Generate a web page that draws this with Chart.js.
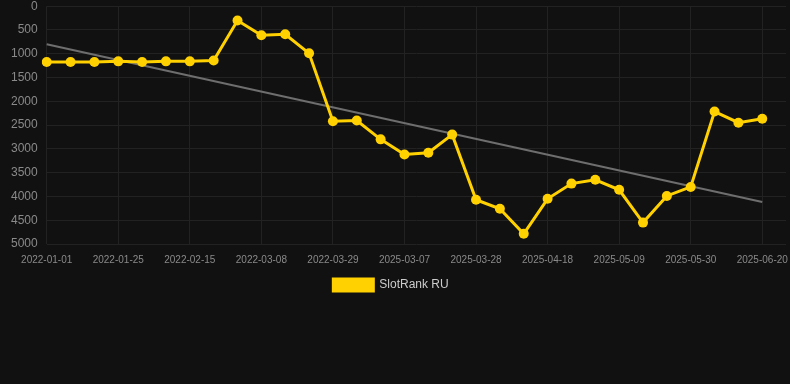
<!DOCTYPE html>
<html>
<head>
<meta charset="utf-8">
<script src="https://cdn.jsdelivr.net/npm/chart.js@4/dist/chart.umd.min.js"></script>
<style>
  html, body { margin: 0; padding: 0; background: #111111; overflow: hidden; width: 790px; height: 384px; }
  #wrap { width: 798px; height: 393px; margin-top: -10px; }
</style>
</head>
<body>
<div id="wrap"><canvas id="c"></canvas></div>
<script>
const labels = [
  '2022-01-01', '2022-01-08', '2022-01-18', '2022-01-25', '2022-02-01', '2022-02-08',
  '2022-02-15', '2022-02-22', '2022-03-01', '2022-03-08', '2022-03-15', '2022-03-22',
  '2022-03-29', '2025-02-21', '2025-02-28', '2025-03-07', '2025-03-14', '2025-03-21',
  '2025-03-28', '2025-04-04', '2025-04-11', '2025-04-18', '2025-04-25', '2025-05-02',
  '2025-05-09', '2025-05-16', '2025-05-23', '2025-05-30', '2025-06-06', '2025-06-13',
  '2025-06-20', ''
];
const rankRU = [
  1175, 1175, 1175, 1160, 1175, 1160, 1160, 1140, 300, 610, 590, 990,
  2420, 2405, 2800, 3120, 3080, 2700, 4070, 4260, 4785, 4050, 3730, 3650,
  3860, 4550, 3990, 3800, 2215, 2450, 2365, null
];
const trendStart = 800;
const trendEnd = 4115;

const trend = labels.map(() => null);
trend[0] = trendStart;
trend[30] = trendEnd;

const tickColor = '#8a8a8a';
const gridColor = '#222222';

// canvas is a little wider than the window, pull the legend back to the visible centre
const legendShift = {
  id: 'legendShift',
  afterUpdate(chart) {
    if (!chart.legend) return;
    chart.legend.left -= 9;
    chart.legend.right -= 9;
  }
};

new Chart(document.getElementById('c'), {
  type: 'line',
  data: {
    labels: labels,
    datasets: [
      {
        label: 'SlotRank RU',
        data: rankRU,
        borderColor: '#FFD100',
        backgroundColor: '#FFD100',
        borderWidth: 3,
        pointRadius: 5,
        pointBackgroundColor: '#FFD100',
        pointBorderWidth: 0,
        tension: 0
      },
      {
        label: 'trend',
        data: trend,
        borderColor: '#6e6e6e',
        borderWidth: 2,
        pointRadius: 0,
        spanGaps: true,
        fill: false
      }
    ]
  },
  options: {
    responsive: true,
    maintainAspectRatio: false,
    animation: false,
    layout: { padding: { top: 0, right: 0, bottom: 82, left: 2 } },
    plugins: {
      legend: {
        position: 'bottom',
        labels: {
          color: '#cccccc',
          font: { family: 'Arial, Liberation Sans', size: 12 },
          boxWidth: 40,
          boxHeight: 12,
          padding: 3,
          filter: item => item.datasetIndex === 0
        }
      },
      tooltip: { enabled: false }
    },
    scales: {
      x: {
        grid: { color: gridColor, drawTicks: false },
        border: { display: false },
        ticks: {
          color: tickColor,
          font: { family: 'Arial, Liberation Sans', size: 10 },
          autoSkip: false,
          maxRotation: 0,
          padding: 10,
          callback: function (v, i) { return i % 3 === 0 ? this.getLabelForValue(v) : null; }
        }
      },
      y: {
        reverse: true,
        min: 0,
        max: 5000,
        grid: { color: gridColor, drawTicks: false },
        border: { display: false },
        ticks: {
          color: tickColor,
          font: { family: 'Arial, Liberation Sans', size: 12 },
          stepSize: 500,
          padding: 9,
          callback: v => String(v)
        }
      }
    }
  },
  plugins: [legendShift]
});
</script>
</body>
</html>
